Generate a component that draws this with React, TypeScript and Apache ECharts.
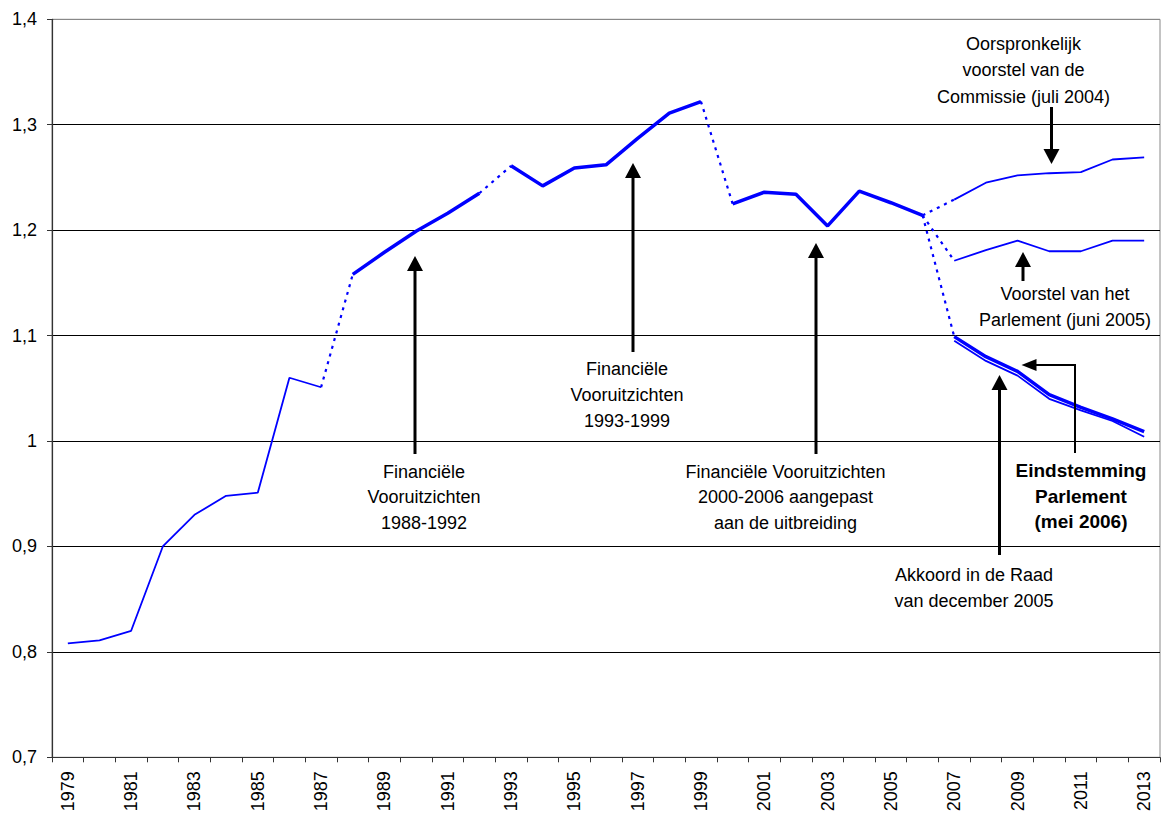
import React, { useEffect, useRef } from "react";
import * as echarts from "echarts";

const years: string[] = [];
for (let y = 1979; y <= 2013; y++) years.push(String(y));

// 1979..2006
const historyValues = [
  0.808, 0.811, 0.82, 0.9, 0.93, 0.948, 0.951, 1.06, 1.051,
  1.158, 1.179, 1.199, 1.216, 1.235,
  1.261, 1.242, 1.259, 1.262, 1.287, 1.311, 1.322,
  1.225, 1.236, 1.234, 1.204, 1.237, 1.226, 1.214,
];
// 2007..2013
const commissionValues = [1.229, 1.245, 1.252, 1.254, 1.255, 1.267, 1.269];
const parliamentValues = [1.171, 1.181, 1.19, 1.18, 1.18, 1.19, 1.19];
const councilValues = [1.099, 1.08, 1.066, 1.044, 1.032, 1.021, 1.009];
const finalVoteValues = [1.095, 1.076, 1.062, 1.04, 1.029, 1.019, 1.004];

const yTickLabels = ["0,7", "0,8", "0,9", "1", "1,1", "1,2", "1,3", "1,4"];

// segments of the history line: [startIndex, endIndex, style]
const historySegments: [number, number, string][] = [
  [0, 8, "thin"],
  [8, 9, "dot"],
  [9, 13, "thick"],
  [13, 14, "dot"],
  [14, 20, "thick"],
  [20, 21, "dot"],
  [21, 27, "thick"],
];

const BLUE = "#0000ff";
const FONT = '"Liberation Sans", Arial, sans-serif';

function fill(from: number, vals: number[]): (number | null)[] {
  const arr: (number | null)[] = years.map(() => null);
  vals.forEach((v, i) => (arr[from + i] = v));
  return arr;
}

function styleFor(kind: string) {
  if (kind === "thin") return { color: BLUE, width: 1.8, type: "solid" as any };
  if (kind === "thick") return { color: BLUE, width: 3.5, type: "solid" as any };
  return { color: BLUE, width: 2.2, type: [3, 5] as any };
}

function mkLine(data: (number | null)[], kind: string, z = 3) {
  return {
    type: "line",
    data,
    symbol: "none",
    connectNulls: false,
    lineStyle: styleFor(kind),
    z,
    silent: true,
  };
}

function arrow(x: number, tail: number, tip: number, w = 3) {
  const dir = tip < tail ? 1 : -1; // 1: pointing up
  const headLen = 15;
  const half = 8;
  const base = tip + dir * headLen;
  return [
    {
      type: "line",
      shape: { x1: x, y1: tail, x2: x, y2: base },
      style: { stroke: "#000", lineWidth: w },
      z: 10,
    },
    {
      type: "polygon",
      shape: { points: [[x, tip], [x - half, base], [x + half, base]] },
      style: { fill: "#000" },
      z: 10,
    },
  ];
}

function textLines(x: number, ys: number[], lines: string[], bold = false) {
  return lines.map((t, i) => ({
    type: "text",
    x,
    y: ys[i],
    style: {
      text: t,
      fill: "#000",
      font: `${bold ? "bold 19px" : "18px"} ${FONT}`,
      align: "center",
      verticalAlign: "middle",
    },
    z: 11,
  }));
}

export default function App() {
  const ref = useRef<HTMLDivElement>(null);
  useEffect(() => {
    document.body.style.margin = "0";
    const chart = echarts.init(ref.current!, null, { renderer: "svg" });
    const series: any[] = [];
    historySegments.forEach(([a, b, kind]) => {
      series.push(mkLine(fill(a, historyValues.slice(a, b + 1)), kind));
    });
    const last = historyValues[historyValues.length - 1];
    const startIdx = historyValues.length - 1;
    series.push(mkLine(fill(startIdx, [last, commissionValues[0]]), "dot"));
    series.push(mkLine(fill(startIdx, [last, parliamentValues[0]]), "dot"));
    series.push(mkLine(fill(startIdx, [last, councilValues[0]]), "dot"));
    series.push(mkLine(fill(startIdx + 1, commissionValues), "thin"));
    series.push(mkLine(fill(startIdx + 1, parliamentValues), "thin"));
    series.push(mkLine(fill(startIdx + 1, finalVoteValues), "thin", 3));
    series.push(mkLine(fill(startIdx + 1, councilValues), "thick", 4));

    const graphics: any[] = [
      ...arrow(415, 454, 256),
      ...arrow(633, 352, 163),
      ...arrow(816, 454, 243),
      ...arrow(1051.5, 107, 164),
      ...arrow(1023, 281, 252),
      ...arrow(999.5, 555, 375),
      {
        type: "polyline",
        shape: { points: [[1075, 453], [1075, 365], [1035, 365]] },
        style: { stroke: "#000", lineWidth: 2, fill: null },
        z: 10,
      },
      {
        type: "polygon",
        shape: { points: [[1021.5, 365], [1036.5, 359], [1036.5, 371]] },
        style: { fill: "#000" },
        z: 10,
      },
      ...textLines(424, [471.7, 497, 523], ["Financiële", "Vooruitzichten", "1988-1992"]),
      ...textLines(627, [369.3, 395, 420.5], ["Financiële", "Vooruitzichten", "1993-1999"]),
      ...textLines(785.5, [471.7, 497, 523], [
        "Financiële Vooruitzichten",
        "2000-2006 aangepast",
        "aan de uitbreiding",
      ]),
      ...textLines(1023.5, [44, 70, 96.5], [
        "Oorspronkelijk",
        "voorstel van de",
        "Commissie (juli 2004)",
      ]),
      ...textLines(1065, [294, 320], ["Voorstel van het", "Parlement (juni 2005)"]),
      ...textLines(1081, [470, 496, 521.7], ["Eindstemming", "Parlement", "(mei 2006)"], true),
      ...textLines(974, [575, 600.7], ["Akkoord in de Raad", "van december 2005"]),
    ];

    chart.setOption({
      animation: false,
      backgroundColor: "#fff",
      grid: {
        left: 52,
        right: 4,
        top: 19.3,
        bottom: 58.7,
        show: true,
        borderColor: "#888",
        borderWidth: 1,
        containLabel: false,
      },
      xAxis: {
        type: "category",
        data: years,
        boundaryGap: true,
        axisLine: { show: true, lineStyle: { color: "#333", width: 1.2 } },
        axisTick: { show: true, interval: 0, length: 5, lineStyle: { color: "#333" } },
        axisLabel: {
          interval: 1,
          rotate: 90,
          margin: 14,
          color: "#000",
          fontSize: 18,
          fontFamily: FONT,
        },
        splitLine: { show: false },
      },
      yAxis: {
        type: "value",
        min: 0.7,
        max: 1.4,
        interval: 0.1,
        axisLine: { show: true, lineStyle: { color: "#333", width: 1.2 } },
        axisTick: { show: true, length: 5, lineStyle: { color: "#333" } },
        axisLabel: {
          margin: 15,
          color: "#000",
          fontSize: 18,
          fontFamily: FONT,
          formatter: (v: number) => yTickLabels[Math.round(v * 10) - 7] ?? "",
        },
        splitLine: {
          show: true,
          lineStyle: {
            color: ["#000", "#000", "#000", "#000", "#000", "#000", "#000", "#888"],
            width: 1,
          },
        },
      },
      series,
      graphic: graphics,
    });
    return () => chart.dispose();
  }, []);
  return (
    <div
      ref={ref}
      style={{ position: "absolute", left: 0, top: 0, width: 1164, height: 816 }}
    />
  );
}
